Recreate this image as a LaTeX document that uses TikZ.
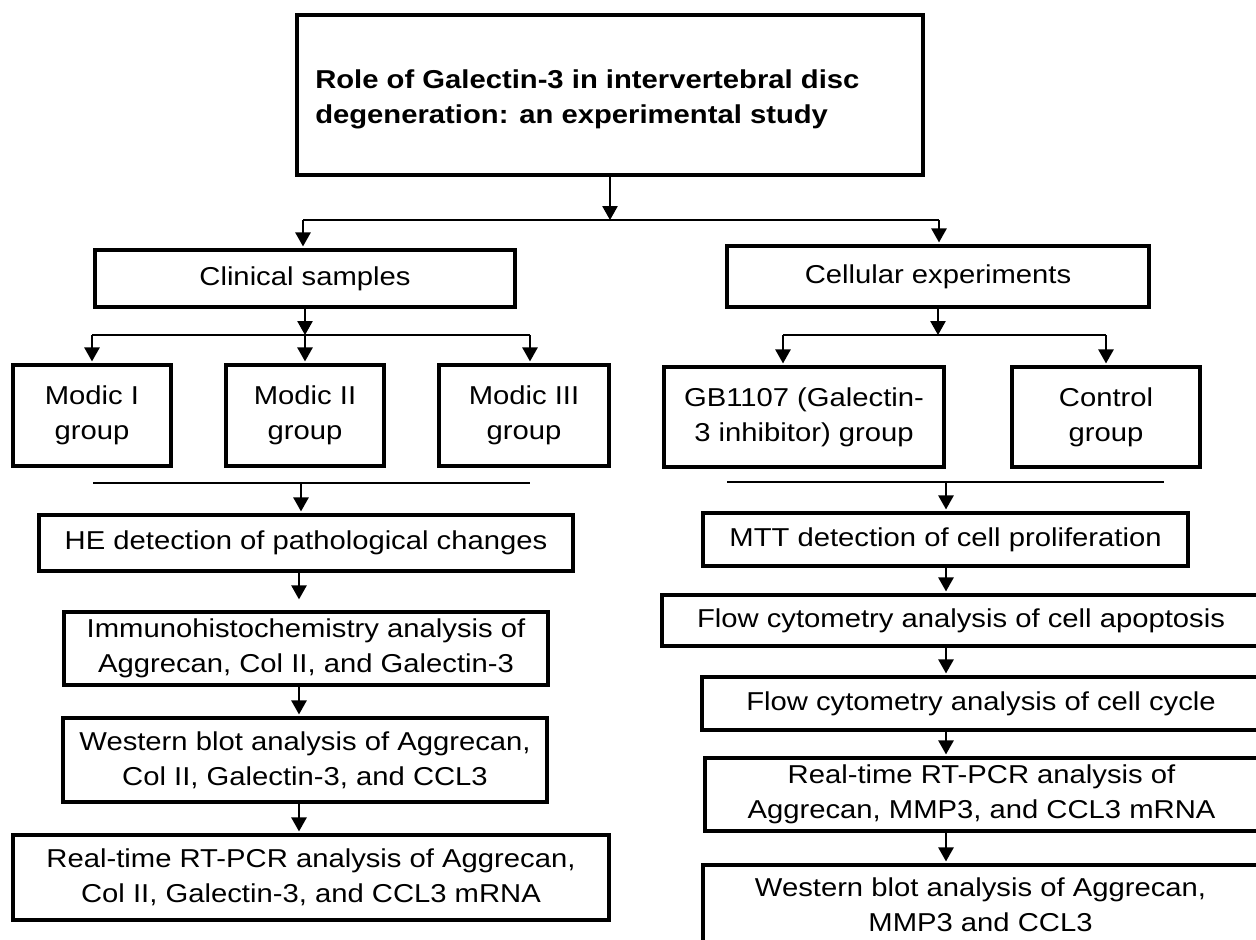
\documentclass[tikz,border=0pt]{standalone}
\usepackage{fontspec}
\setmainfont{Liberation Sans}[FakeStretch=1.13]
\usetikzlibrary{arrows.meta}
\begin{document}
\begin{tikzpicture}[x=0.75pt,y=-0.75pt,
  box/.style={draw, line width=3pt, inner sep=0pt, align=center,
    font=\fontsize{19.4}{26.25}\selectfont},
  conn/.style={line width=1.2pt},
  arr/.style={line width=1.2pt, -{Triangle[length=10.5pt,width=11.5pt]}, shorten >=1.2pt}]
\useasboundingbox (0,0) rectangle (1256,939);
\clip (0,0) rectangle (1256,939);
\fill[white] (0,0) rectangle (1256,939);

% title
\node[box, minimum width=469.5pt, minimum height=120pt] (title) at (610,94.7) {};
\node[anchor=north west, inner sep=0pt, align=left,
  font=\bfseries\fontsize{19.4}{26.25}\selectfont] (ttext) at (315,69.5)
  {Role of Galectin-3 in intervertebral disc\\degeneration: an experimental study};

% level 1
\node[box, minimum width=315pt, minimum height=42.75pt] (clin) at (305,278.5) {Clinical samples};
\node[box, minimum width=316.5pt, minimum height=45.75pt] (cell) at (938,276.5) {Cellular experiments};

% left groups
\node[box, minimum width=118.5pt, minimum height=75.75pt] (m1) at (92,415.5) {Modic I\\group};
\node[box, minimum width=118.5pt, minimum height=75.75pt] (m2) at (305,415.5) {Modic II\\group};
\node[box, minimum width=127.5pt, minimum height=75.75pt] (m3) at (524,415.5) {Modic III\\group};

% left chain
\node[box, minimum width=400.5pt, minimum height=42pt] (he) at (306,543) {HE detection of pathological changes};
\node[box, minimum width=363pt, minimum height=54.75pt] (ihc) at (306,648.5) {Immunohistochemistry analysis of\\Aggrecan, Col II, and Galectin-3};
\node[box, minimum width=363pt, minimum height=63pt] (wbl) at (305,760) {Western blot analysis of Aggrecan,\\Col II, Galectin-3, and CCL3};
\node[box, minimum width=447pt, minimum height=63.75pt] (rtl) at (311,877.5) {Real-time RT-PCR analysis of Aggrecan,\\Col II, Galectin-3, and CCL3 mRNA};

% right groups
\node[box, minimum width=210pt, minimum height=75pt] (gb) at (804,417) {GB1107 (Galectin-\\3 inhibitor) group};
\node[box, minimum width=141pt, minimum height=75pt] (ctl) at (1106,417) {Control\\group};

% right chain
\node[box, minimum width=363.75pt, minimum height=39.75pt] (mtt) at (945.5,539.5) {MTT detection of cell proliferation};
\node[box, minimum width=448.5pt, minimum height=38.25pt] (fa) at (961,620.5) {Flow cytometry analysis of cell apoptosis};
\node[box, minimum width=418.5pt, minimum height=39.75pt] (fc) at (981,703.5) {Flow cytometry analysis of cell cycle};
\node[box, minimum width=414.75pt, minimum height=54.75pt] (rtr) at (981.5,794.5) {Real-time RT-PCR analysis of\\Aggrecan, MMP3, and CCL3 mRNA};
\node[box, minimum width=416.25pt, minimum height=59.25pt] (wbr) at (980.5,904.5) {Western blot analysis of Aggrecan,\\MMP3 and CCL3};

% top split
\coordinate (jt) at (610,220);
\coordinate (jl) at (303,220);
\coordinate (jr) at (939,220);
\draw[conn] (jl) -- (jr);
\draw[arr, shorten >=0pt] (title.south) -- (jt);
\draw[arr] (jl) -- (jl |- clin.north);
\draw[arr] (jr) -- (jr |- cell.north);

% left split
\coordinate (a1) at (92,335);
\coordinate (a2) at (305,335);
\coordinate (a3) at (530,335);
\draw[conn] (a1) -- (a3);
\draw[arr, shorten >=0pt] (clin.south) -- (a2);
\draw[arr] (a1) -- (m1.north);
\draw[arr] (a2) -- (m2.north);
\draw[arr] (a3) -- (a3 |- m3.north);

% left merge
\coordinate (s1) at (93,483);
\coordinate (s2) at (530,483);
\coordinate (sh) at (301,483);
\draw[conn] (s1) -- (s2);
\draw[arr] (sh) -- (sh |- he.north);

\coordinate (axl) at (299,0);
\draw[arr, shorten >=8pt] (he.south -| axl) -- (ihc.north -| axl);
\draw[arr] (ihc.south -| axl) -- (wbl.north -| axl);
\draw[arr] (wbl.south -| axl) -- (rtl.north -| axl);

% right split
\coordinate (bc) at (938,335);
\coordinate (b1) at (783,335);
\coordinate (b2) at (1106,335);
\draw[conn] (b1) -- (b2);
\draw[arr, shorten >=0pt] (cell.south) -- (bc);
\draw[arr] (b1) -- (b1 |- gb.north);
\draw[arr] (b2) -- (ctl.north);

% right merge
\coordinate (t1) at (727,482);
\coordinate (t2) at (1164,482);
\coordinate (tm) at (946,482);
\draw[conn] (t1) -- (t2);
\draw[arr] (tm) -- (tm |- mtt.north);

\coordinate (axr) at (946,0);
\draw[arr] (mtt.south -| axr) -- (fa.north -| axr);
\draw[arr] (fa.south -| axr) -- (fc.north -| axr);
\draw[arr] (fc.south -| axr) -- (rtr.north -| axr);
\draw[arr] (rtr.south -| axr) -- (wbr.north -| axr);
\end{tikzpicture}
\end{document}
